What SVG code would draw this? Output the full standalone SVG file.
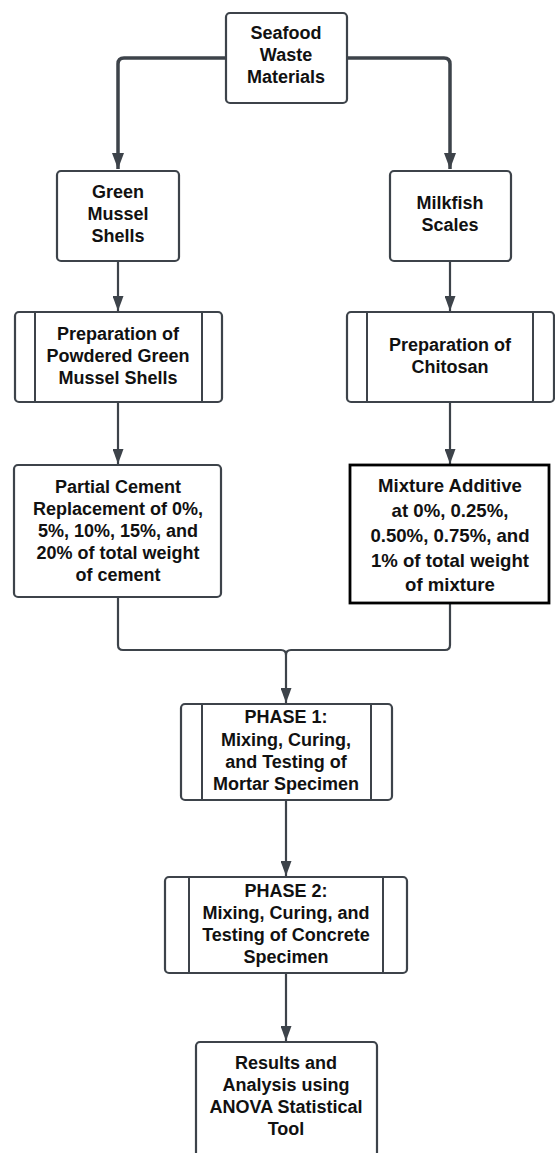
<svg xmlns="http://www.w3.org/2000/svg" width="555" height="1153" viewBox="0 0 555 1153">
<style>
.box{fill:#fff;stroke:#3d434a;stroke-width:2.2}
.inner{stroke:#3d434a;stroke-width:2;fill:none}
.bold{fill:#fff;stroke:#000;stroke-width:2.8}
.c{fill:none;stroke:#3d434a;stroke-width:2.2}
.ct{fill:none;stroke:#3d434a;stroke-width:3.5}
text{font-family:"Liberation Sans",Arial,sans-serif;font-weight:bold;font-size:18px;fill:#111;text-anchor:middle}
.big{font-size:18.6px}
</style>
<defs>
<marker id="ah" viewBox="0 0 16 12" refX="16" refY="6" markerWidth="16" markerHeight="12" markerUnits="userSpaceOnUse" orient="auto">
<path d="M0,0 L16,6 L0,12 z" fill="#3d434a"/>
</marker>
<marker id="ahs" viewBox="0 0 15 11" refX="15" refY="5.5" markerWidth="15" markerHeight="11" markerUnits="userSpaceOnUse" orient="auto">
<path d="M0,0 L15,5.5 L0,11 z" fill="#3d434a"/>
</marker>
</defs>
<g id="connectors">
<path class="ct" d="M226,58 H124 Q118,58 118,64 V169" marker-end="url(#ah)"/>
<path class="ct" d="M347,58 H444 Q450,58 450,64 V169" marker-end="url(#ah)"/>
<path class="c" d="M118,261 V311" marker-end="url(#ahs)"/>
<path class="c" d="M450,261 V311" marker-end="url(#ahs)"/>
<path class="c" d="M118,402 V464" marker-end="url(#ahs)"/>
<path class="c" d="M450,402 V464" marker-end="url(#ahs)"/>
<path class="c" d="M118,597 V645 Q118,650 123,650 H281 Q286,650 286,655 V703" marker-end="url(#ahs)"/>
<path class="c" d="M450,603 V645 Q450,650 445,650 H291 Q286,650 286,655"/>
<path class="c" d="M286,800 V876" marker-end="url(#ahs)"/>
<path class="c" d="M286,973 V1041" marker-end="url(#ahs)"/>
</g>
<g id="seafood">
<rect class="box" x="226" y="13" width="121" height="90" rx="4"/>
<text x="286" y="39">Seafood</text>
<text x="286" y="61">Waste</text>
<text x="286" y="83">Materials</text>
</g>
<g id="green-mussel">
<rect class="box" x="57" y="171" width="122" height="90" rx="4"/>
<text x="118" y="198">Green</text>
<text x="118" y="220">Mussel</text>
<text x="118" y="242">Shells</text>
</g>
<g id="milkfish">
<rect class="box" x="390" y="171" width="121" height="90" rx="4"/>
<text x="450" y="209">Milkfish</text>
<text x="450" y="231">Scales</text>
</g>
<g id="prep-powder">
<rect class="box" x="15" y="312" width="207" height="90" rx="4"/>
<line class="inner" x1="35" y1="312" x2="35" y2="402"/>
<line class="inner" x1="202" y1="312" x2="202" y2="402"/>
<text x="118" y="340">Preparation of</text>
<text x="118" y="362">Powdered Green</text>
<text x="118" y="384">Mussel Shells</text>
</g>
<g id="prep-chitosan">
<rect class="box" x="347" y="312" width="207" height="90" rx="4"/>
<line class="inner" x1="367" y1="312" x2="367" y2="402"/>
<line class="inner" x1="533" y1="312" x2="533" y2="402"/>
<text x="450" y="351">Preparation of</text>
<text x="450" y="373">Chitosan</text>
</g>
<g id="partial-cement">
<rect class="box" x="14" y="465" width="207" height="132" rx="4"/>
<text x="118" y="493">Partial Cement</text>
<text x="118" y="515">Replacement of 0%,</text>
<text x="118" y="537">5%, 10%, 15%, and</text>
<text x="118" y="559">20% of total weight</text>
<text x="118" y="581">of cement</text>
</g>
<g id="mixture-additive">
<rect class="bold" x="350" y="465" width="199" height="138"/>
<text class="big" x="450" y="492">Mixture Additive</text>
<text class="big" x="450" y="517">at 0%, 0.25%,</text>
<text class="big" x="450" y="542">0.50%, 0.75%, and</text>
<text class="big" x="450" y="567">1% of total weight</text>
<text class="big" x="450" y="591">of mixture</text>
</g>
<g id="phase1">
<rect class="box" x="181" y="704" width="211" height="96" rx="4"/>
<line class="inner" x1="202" y1="704" x2="202" y2="800"/>
<line class="inner" x1="371" y1="704" x2="371" y2="800"/>
<text x="286" y="723">PHASE 1:</text>
<text x="286" y="746">Mixing, Curing,</text>
<text x="286" y="768">and Testing of</text>
<text x="286" y="790">Mortar Specimen</text>
</g>
<g id="phase2">
<rect class="box" x="165" y="877" width="242" height="96" rx="4"/>
<line class="inner" x1="189" y1="877" x2="189" y2="973"/>
<line class="inner" x1="383" y1="877" x2="383" y2="973"/>
<text x="286" y="897">PHASE 2:</text>
<text x="286" y="919">Mixing, Curing, and</text>
<text x="286" y="941">Testing of Concrete</text>
<text x="286" y="963">Specimen</text>
</g>
<g id="results">
<rect class="box" x="196" y="1042" width="181" height="130" rx="4"/>
<text x="286" y="1069">Results and</text>
<text x="286" y="1091">Analysis using</text>
<text x="286" y="1113">ANOVA Statistical</text>
<text x="286" y="1135">Tool</text>
</g>
</svg>
